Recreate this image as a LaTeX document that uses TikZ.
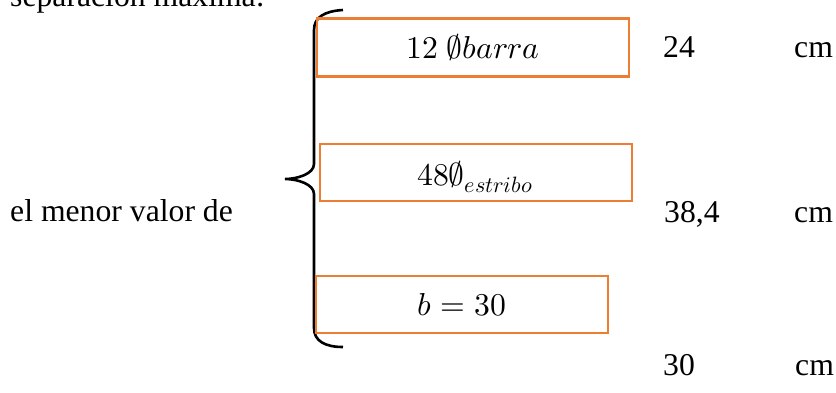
\documentclass[tikz,border=0pt]{standalone}
\usepackage{fontspec}
\usepackage{unicode-math}
\setmainfont{Liberation Serif}
\setmathfont{Latin Modern Math}
\definecolor{boxorange}{RGB}{237,125,49}
\tikzset{
  optbox/.style={draw=boxorange, line width=2.4pt, minimum width=#1, inner sep=0pt},
  optbox/.default=312pt,
  lbl/.style={inner sep=0pt, font=\fontsize{31.7}{38}\selectfont},
  bracestroke/.style={line width=2.6pt, black}
}
\begin{document}
\begin{tikzpicture}[x=1pt, y=-1pt]
  \useasboundingbox (0,0) rectangle (836,392);

  % heading line (partly above the page)
  \node[lbl, anchor=base west] (head) at (10,6) {separación máxima:};

  % left caption
  \node[lbl, anchor=base west] (cap) at (10,221) {el menor valor de};

  % curly brace
  \coordinate (bt) at (343,10);
  \coordinate (tip) at (285,179);
  \coordinate (bb) at (343,347);
  \draw[bracestroke] (bt) .. controls (325,11) and (314,17) .. (314,30)
    -- (314,164) .. controls (314,174) and (297,179) .. (tip)
    .. controls (297,179) and (314,184) .. (314,194)
    -- (314,328) .. controls (314,341) and (325,347) .. (bb);

  % option boxes
  \node[optbox=312pt, minimum height=58pt] (b1) at (473,47.5) {};
  \node[optbox=312pt, minimum height=57pt] (b2) at (476,172.5) {};
  \node[optbox=292pt, minimum height=57pt] (b3) at (462,304.5) {};

  % box contents
  \node[lbl, anchor=base] (t1) at (473,58) {$12\ \varnothing barra$};
  \node[lbl, anchor=base] (t2) at (475,185) {$48\varnothing_{estribo}$};
  \node[lbl, anchor=base] (t3) at (462,315) {$b=30$};

  % values
  \node[lbl, anchor=base west] (v1) at (663,57) {24};
  \node[lbl, anchor=base west] (v2) at (664,222) {38,4};
  \node[lbl, anchor=base west] (v3) at (663,375) {30};
  \node[lbl, anchor=base west] (u1) at (794,57) {cm};
  \node[lbl, anchor=base west] (u2) at (794,222) {cm};
  \node[lbl, anchor=base west] (u3) at (795,375) {cm};
\end{tikzpicture}
\end{document}
